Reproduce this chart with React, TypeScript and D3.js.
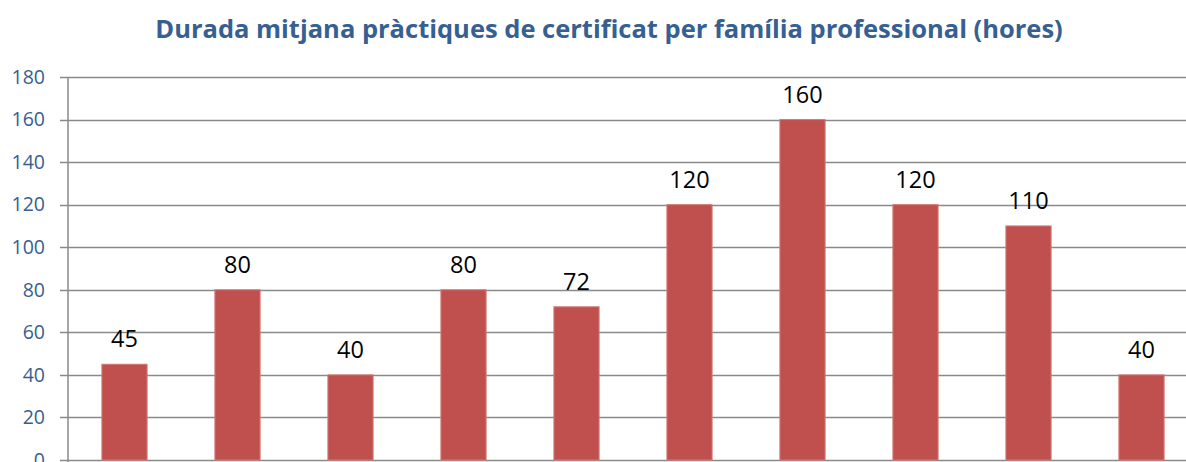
import React from "react";
import * as d3 from "d3";

// families are below the visible area in the source image
const families = ["F1", "F2", "F3", "F4", "F5", "F6", "F7", "F8", "F9", "F10"];
const hours = [45, 80, 40, 80, 72, 120, 160, 120, 110, 40];
const yTicks = [0, 20, 40, 60, 80, 100, 120, 140, 160, 180];

const W = 1186;
const H = 462;
const left = 68;
const plotRight = 1198;

const App = () => {
  const x = d3
    .scaleBand<string>()
    .domain(families)
    .range([left, plotRight])
    .paddingInner(0.6)
    .paddingOuter(0.3);
  const y = d3.scaleLinear().domain([0, 180]).range([460, 77]);

  return (
    <svg
      width={W}
      height={H}
      style={{ position: "absolute", left: 0, top: 0, background: "#fff" }}
    >
      <text
        x={609}
        y={37.5}
        textAnchor="middle"
        fontFamily="'Open Sans', sans-serif"
        fontWeight="bold"
        fontSize={25.5}
        fill="#366092"
      >
        Durada mitjana pràctiques de certificat per família professional (hores)
      </text>

      {yTicks.map(t => (
        <g key={t}>
          <line
            x1={left - 8}
            x2={W}
            y1={Math.round(y(t)) + 0.5}
            y2={Math.round(y(t)) + 0.5}
            stroke="#8a8a8a"
            strokeWidth={1.5}
          />
          <text
            x={45}
            y={y(t)}
            dy="0.35em"
            textAnchor="end"
            fontFamily="'Open Sans', sans-serif"
            fontSize={19.5}
            fill="#366092"
          >
            {t}
          </text>
        </g>
      ))}
      <line x1={left} x2={left} y1={y(180)} y2={H} stroke="#8a8a8a" strokeWidth={1.5} />

      {hours.map((v, i) => (
        <g key={families[i]}>
          <rect
            x={x(families[i])}
            y={y(v)}
            width={x.bandwidth()}
            height={y(0) - y(v)}
            fill="#C0504D"
            stroke="#D47A77"
            strokeWidth={1}
          />
          <text
            x={(x(families[i]) as number) + x.bandwidth() / 2}
            y={y(v) - 17}
            textAnchor="middle"
            fontFamily="'Open Sans', sans-serif"
            fontSize={23.5}
            fill="#000"
          >
            {v}
          </text>
        </g>
      ))}
    </svg>
  );
};

export default App;
